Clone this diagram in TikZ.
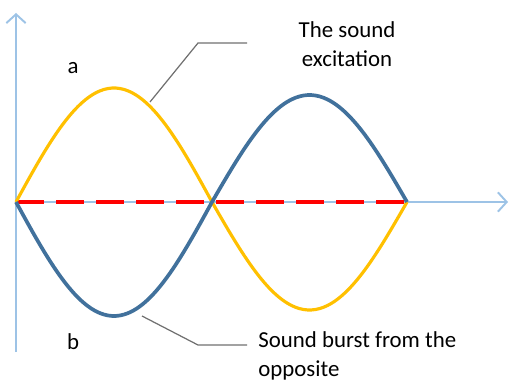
\documentclass[tikz,border=0pt]{standalone}
\usepackage{fontspec}
\setmainfont{Carlito}
\usetikzlibrary{arrows.meta}

\definecolor{asse}{HTML}{9DC3E6}
\definecolor{giallo}{HTML}{FFC000}
\definecolor{blu}{HTML}{41719C}
\definecolor{grigio}{HTML}{707070}

\begin{document}
\begin{tikzpicture}[
        asse/.style={draw=asse, line width=1.1pt, -{Straight Barb[length=5pt,width=11pt]}},
        onda/.style={line width=1.8pt, line join=round},
        guida/.style={draw=grigio, line width=0.7pt},
        testo/.style={font=\fontsize{13}{16.4}\selectfont, inner sep=0pt}
    ]
        \useasboundingbox (-0.32,-3.58) rectangle (9.88,4.04);
        % Assi
        \draw [asse] (0,-3) -- (0,3.78);
        \draw [asse] (0,0) -- (9.84,0);

        \draw [red, line width=2.2pt, dash pattern=on 0.56cm off 0.24cm] (0,0) -- (7.82,0);

        % Onde
        \draw [giallo, onda] plot[domain=0:3.92, samples=50, smooth] (\x, {2.28*sin(\x/3.92*180)})
            -- plot[domain=3.92:7.82, samples=50, smooth] (\x, {2.16*sin((\x-3.92)/3.9*180+180)});
        \draw [blu, onda, line width=2.1pt] plot[domain=0:3.92, samples=50, smooth] (\x, {-2.28*sin(\x/3.92*180)})
            -- plot[domain=3.92:7.82, samples=50, smooth] (\x, {2.14*sin((\x-3.92)/3.9*180)});

        % Etichette
        \node [testo] (a) at (1.14,2.68) {a};
        \node [testo] (b) at (1.14,-2.8) {b};
        \node [testo, align=center] (eccitazione) at (6.62,3.16) {The sound\\excitation};
        \node [testo, align=left, anchor=north west] (scoppio) at (4.84,-2.58) {Sound burst from the\\opposite};

        % Linee guida
        \coordinate (pa) at (2.68,2.0);
        \coordinate (ka) at (3.64,3.18);
        \coordinate (ea) at (4.62,3.18);
        \coordinate (pb) at (2.52,-2.28);
        \coordinate (kb) at (3.64,-2.86);
        \coordinate (eb) at (4.62,-2.86);
        \draw [guida] (pa) -- (ka) -- (ea);
        \draw [guida] (pb) -- (kb) -- (eb);
    \end{tikzpicture}
\end{document}
